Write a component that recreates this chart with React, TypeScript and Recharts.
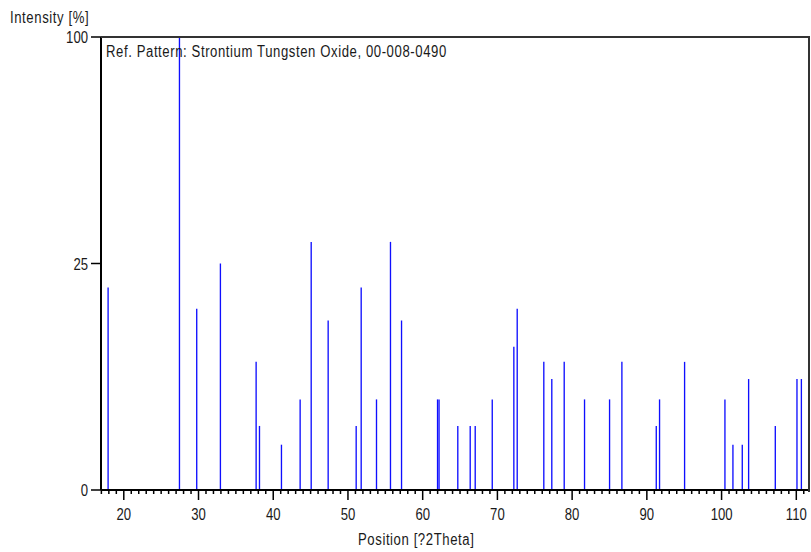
import React from 'react';
import { ComposedChart, Bar, XAxis, YAxis } from 'recharts';

// peak positions [deg 2Theta] and relative intensities [%]
const positions = [
  17.91, 27.46, 29.77, 32.94, 37.72, 38.17, 41.11, 43.61, 45.09, 47.36,
  51.11, 51.78, 53.83, 55.7, 57.18, 62.0, 62.2, 64.71, 66.37, 67.04,
  69.32, 72.21, 72.66, 76.22, 77.29, 78.95, 81.67, 85.02, 86.67, 91.27,
  91.71, 95.06, 100.46, 101.53, 102.78, 103.63, 107.2, 110.1, 110.69,
];
const intensities = [
  20, 100, 16, 25, 8, 2, 1, 4, 30, 14,
  2, 20, 4, 30, 14, 4, 4, 2, 2, 2,
  4, 10, 16, 8, 6, 8, 4, 4, 8, 2,
  4, 8, 4, 1, 1, 6, 2, 6, 6,
];
const yTicks = [0, 25, 100];
const xTicks = Array.from({ length: 95 }, (_, i) => 17 + i); // 1 deg minor ticks

const data = positions.map((p, i) => ({ pos: p, intensity: intensities[i] }));

const FONT = '"Liberation Sans", Arial, sans-serif';
const TEXT = '#1a1a1a';
const SQUEEZE = 0.82; // narrow look of the original font

const XTick = (props: any) => {
  const { x, y, payload } = props;
  const major = payload.value % 10 === 0;
  return (
    <g>
      <line x1={x} x2={x} y1={y} y2={y + (major ? 10 : 4)} stroke="#000" strokeWidth={1.5} />
      {major && (
        <text
          transform={`translate(${x},${y + 30}) scale(${SQUEEZE},1)`}
          textAnchor="middle"
          fontSize={16}
          fontFamily={FONT}
          fill={TEXT}
        >
          {payload.value}
        </text>
      )}
    </g>
  );
};

const YTick = (props: any) => {
  const { x, y, payload } = props;
  return (
    <text
      transform={`translate(${x},${y + 6}) scale(${SQUEEZE},1)`}
      textAnchor="end"
      fontSize={16}
      fontFamily={FONT}
      fill={TEXT}
    >
      {payload.value}
    </text>
  );
};

const titleStyle: React.CSSProperties = {
  position: 'absolute',
  fontSize: 16,
  letterSpacing: 0.72,
  color: TEXT,
  lineHeight: '20px',
  whiteSpace: 'nowrap',
  transform: `scaleX(${SQUEEZE})`,
  transformOrigin: 'left top',
};

export default function App() {
  return (
    <div style={{ position: 'relative', width: 811, height: 552, background: '#fff', fontFamily: FONT, overflow: 'hidden' }}>
      <style>{'body{margin:0;overflow:hidden}'}</style>
      <ComposedChart width={811} height={552} data={data} margin={{ top: 37, right: 2, bottom: 0, left: 0 }}>
        <XAxis
          dataKey="pos"
          type="number"
          domain={[16.95, 111.7]}
          ticks={xTicks}
          interval={0}
          allowDataOverflow
          height={62}
          tickSize={0}
          tickMargin={0}
          tickLine={false}
          tick={<XTick />}
          axisLine={{ stroke: '#000', strokeWidth: 2 }}
        />
        <YAxis
          type="number"
          scale="sqrt"
          domain={[0, 100]}
          ticks={yTicks}
          interval={0}
          width={101}
          tickSize={10}
          tickMargin={3}
          tickLine={{ stroke: '#000', strokeWidth: 1.5 }}
          axisLine={{ stroke: '#000', strokeWidth: 2 }}
          tick={<YTick />}
        />
        <Bar dataKey="intensity" fill="#0f0fff" barSize={2} isAnimationActive={false} />
      </ComposedChart>
      {/* top and right frame of the plot box */}
      <div
        style={{
          position: 'absolute',
          left: 101,
          top: 36,
          width: 707,
          height: 454,
          borderTop: '2px solid #333',
          borderRight: '2px solid #333',
          pointerEvents: 'none',
        }}
      />
      <div style={{ ...titleStyle, left: 10, top: 8 }}>Intensity [%]</div>
      <div style={{ ...titleStyle, left: 106, top: 42 }}>Ref. Pattern: Strontium Tungsten Oxide, 00-008-0490</div>
      <div style={{ ...titleStyle, left: 358, top: 530 }}>Position [?2Theta]</div>
    </div>
  );
}
